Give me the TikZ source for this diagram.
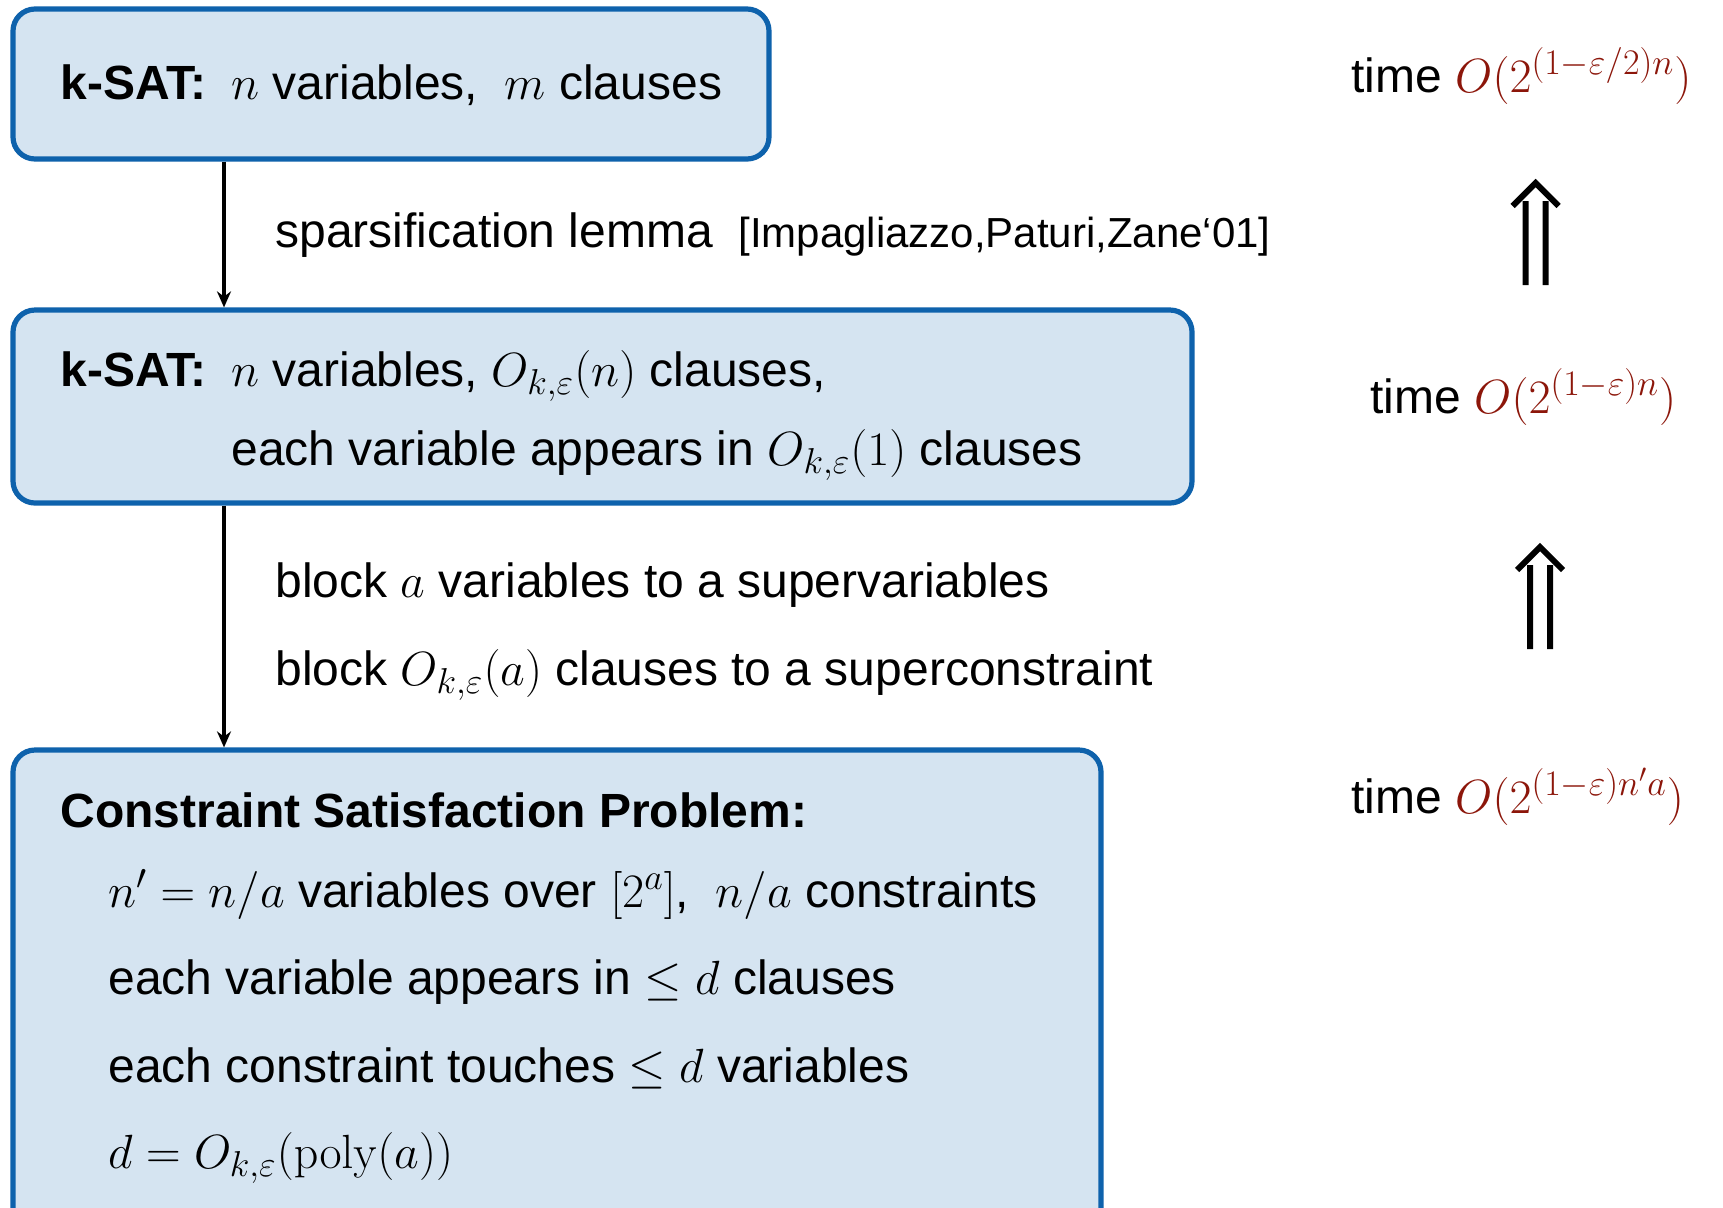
\documentclass[tikz,border=0pt]{standalone}
\usepackage{fix-cm}
\usepackage{amsmath}
\usepackage[no-math]{fontspec}
\setmainfont{Liberation Sans}
\usetikzlibrary{arrows.meta}
\DeclareMathSizes{24}{24}{18}{13}
\definecolor{boxfill}{RGB}{213,228,241}
\definecolor{boxline}{RGB}{14,98,172}
\definecolor{timered}{RGB}{140,22,10}
\begin{document}
\begin{tikzpicture}[x=0.5pt,y=-0.5pt,
  box/.style={draw=boxline, fill=boxfill, line width=2.6pt, rounded corners=11pt, inner sep=0pt},
  txt/.style={anchor=base west, inner sep=0pt, font=\fontsize{24}{29}\selectfont},
  reftxt/.style={anchor=base west, inner sep=0pt, font=\fontsize{21}{25}\selectfont},
  conn/.style={line width=2pt, -{Stealth[length=8pt,width=7pt]}},
  dblup/.pic={\draw[line width=3pt, line join=miter]
      (-10,102) -- (-10,18) (10,102) -- (10,18) (-23,23) -- (0,0) -- (23,23);}]
\useasboundingbox (0,0) rectangle (1723,1207);
\clip (0,0) rectangle (1723,1207);
\fill[white] (0,0) rectangle (1723,1207);

% boxes
\node[box, minimum width=378pt, minimum height=75pt] (b1) at (391,84) {};
\node[box, minimum width=589.5pt, minimum height=96.5pt] (b2) at (602.5,406.5) {};
\node[box, minimum width=544pt, minimum height=250pt] (b3) at (557,1000) {};

% connectors
\coordinate (ax) at (224,0);
\draw[conn] (ax |- b1.south) -- (ax |- b2.north);
\draw[conn] (ax |- b2.south) -- (ax |- b3.north);

% first box
\node[txt] (l1) at (60,99) {\makebox[85.5pt][l]{\textbf{k-SAT:}}$n$ variables,\ \ $m$ clauses};

% sparsification step
\node[txt] (s1) at (275,247) {sparsification lemma};
\node[reftxt] (s2) at (738,247) {[Impagliazzo,Paturi,Zane‘01]};

% second box
\node[txt] (l2) at (60,386) {\makebox[85.5pt][l]{\textbf{k-SAT:}}$n$ variables, $O_{k,\varepsilon}(n)$ clauses,};
\node[txt] (l3) at (231,465) {each variable appears in $O_{k,\varepsilon}(1)$ clauses};

% blocking step
\node[txt] (k1) at (275,597) {block $a$ variables to a supervariables};
\node[txt] (k2) at (275,685) {block $O_{k,\varepsilon}(a)$ clauses to a superconstraint};

% third box
\node[txt] (c0) at (60,827) {\textbf{Constraint Satisfaction Problem:}};
\node[txt] (c1) at (108,907) {$n'=n/a$ variables over $[2^a]$,\ \ $n/a$ constraints};
\node[txt] (c2) at (108,994) {each variable appears in $\le d$ clauses};
\node[txt] (c3) at (108,1082) {each constraint touches $\le d$ variables};
\node[txt] (c4) at (108,1168) {$d=O_{k,\varepsilon}(\mathrm{poly}(a))$};

% running times
\node[txt] (t1) at (1351,92) {time \textcolor{timered}{$O(2^{(1-\varepsilon/2)n})$}};
\node[txt] (t2) at (1370,413) {time \textcolor{timered}{$O(2^{(1-\varepsilon)n})$}};
\node[txt] (t3) at (1351,813) {time \textcolor{timered}{$O(2^{(1-\varepsilon)n'a})$}};

% implications
\pic at (1535.5,183) {dblup};
\pic at (1540,547) {dblup};
\end{tikzpicture}
\end{document}
